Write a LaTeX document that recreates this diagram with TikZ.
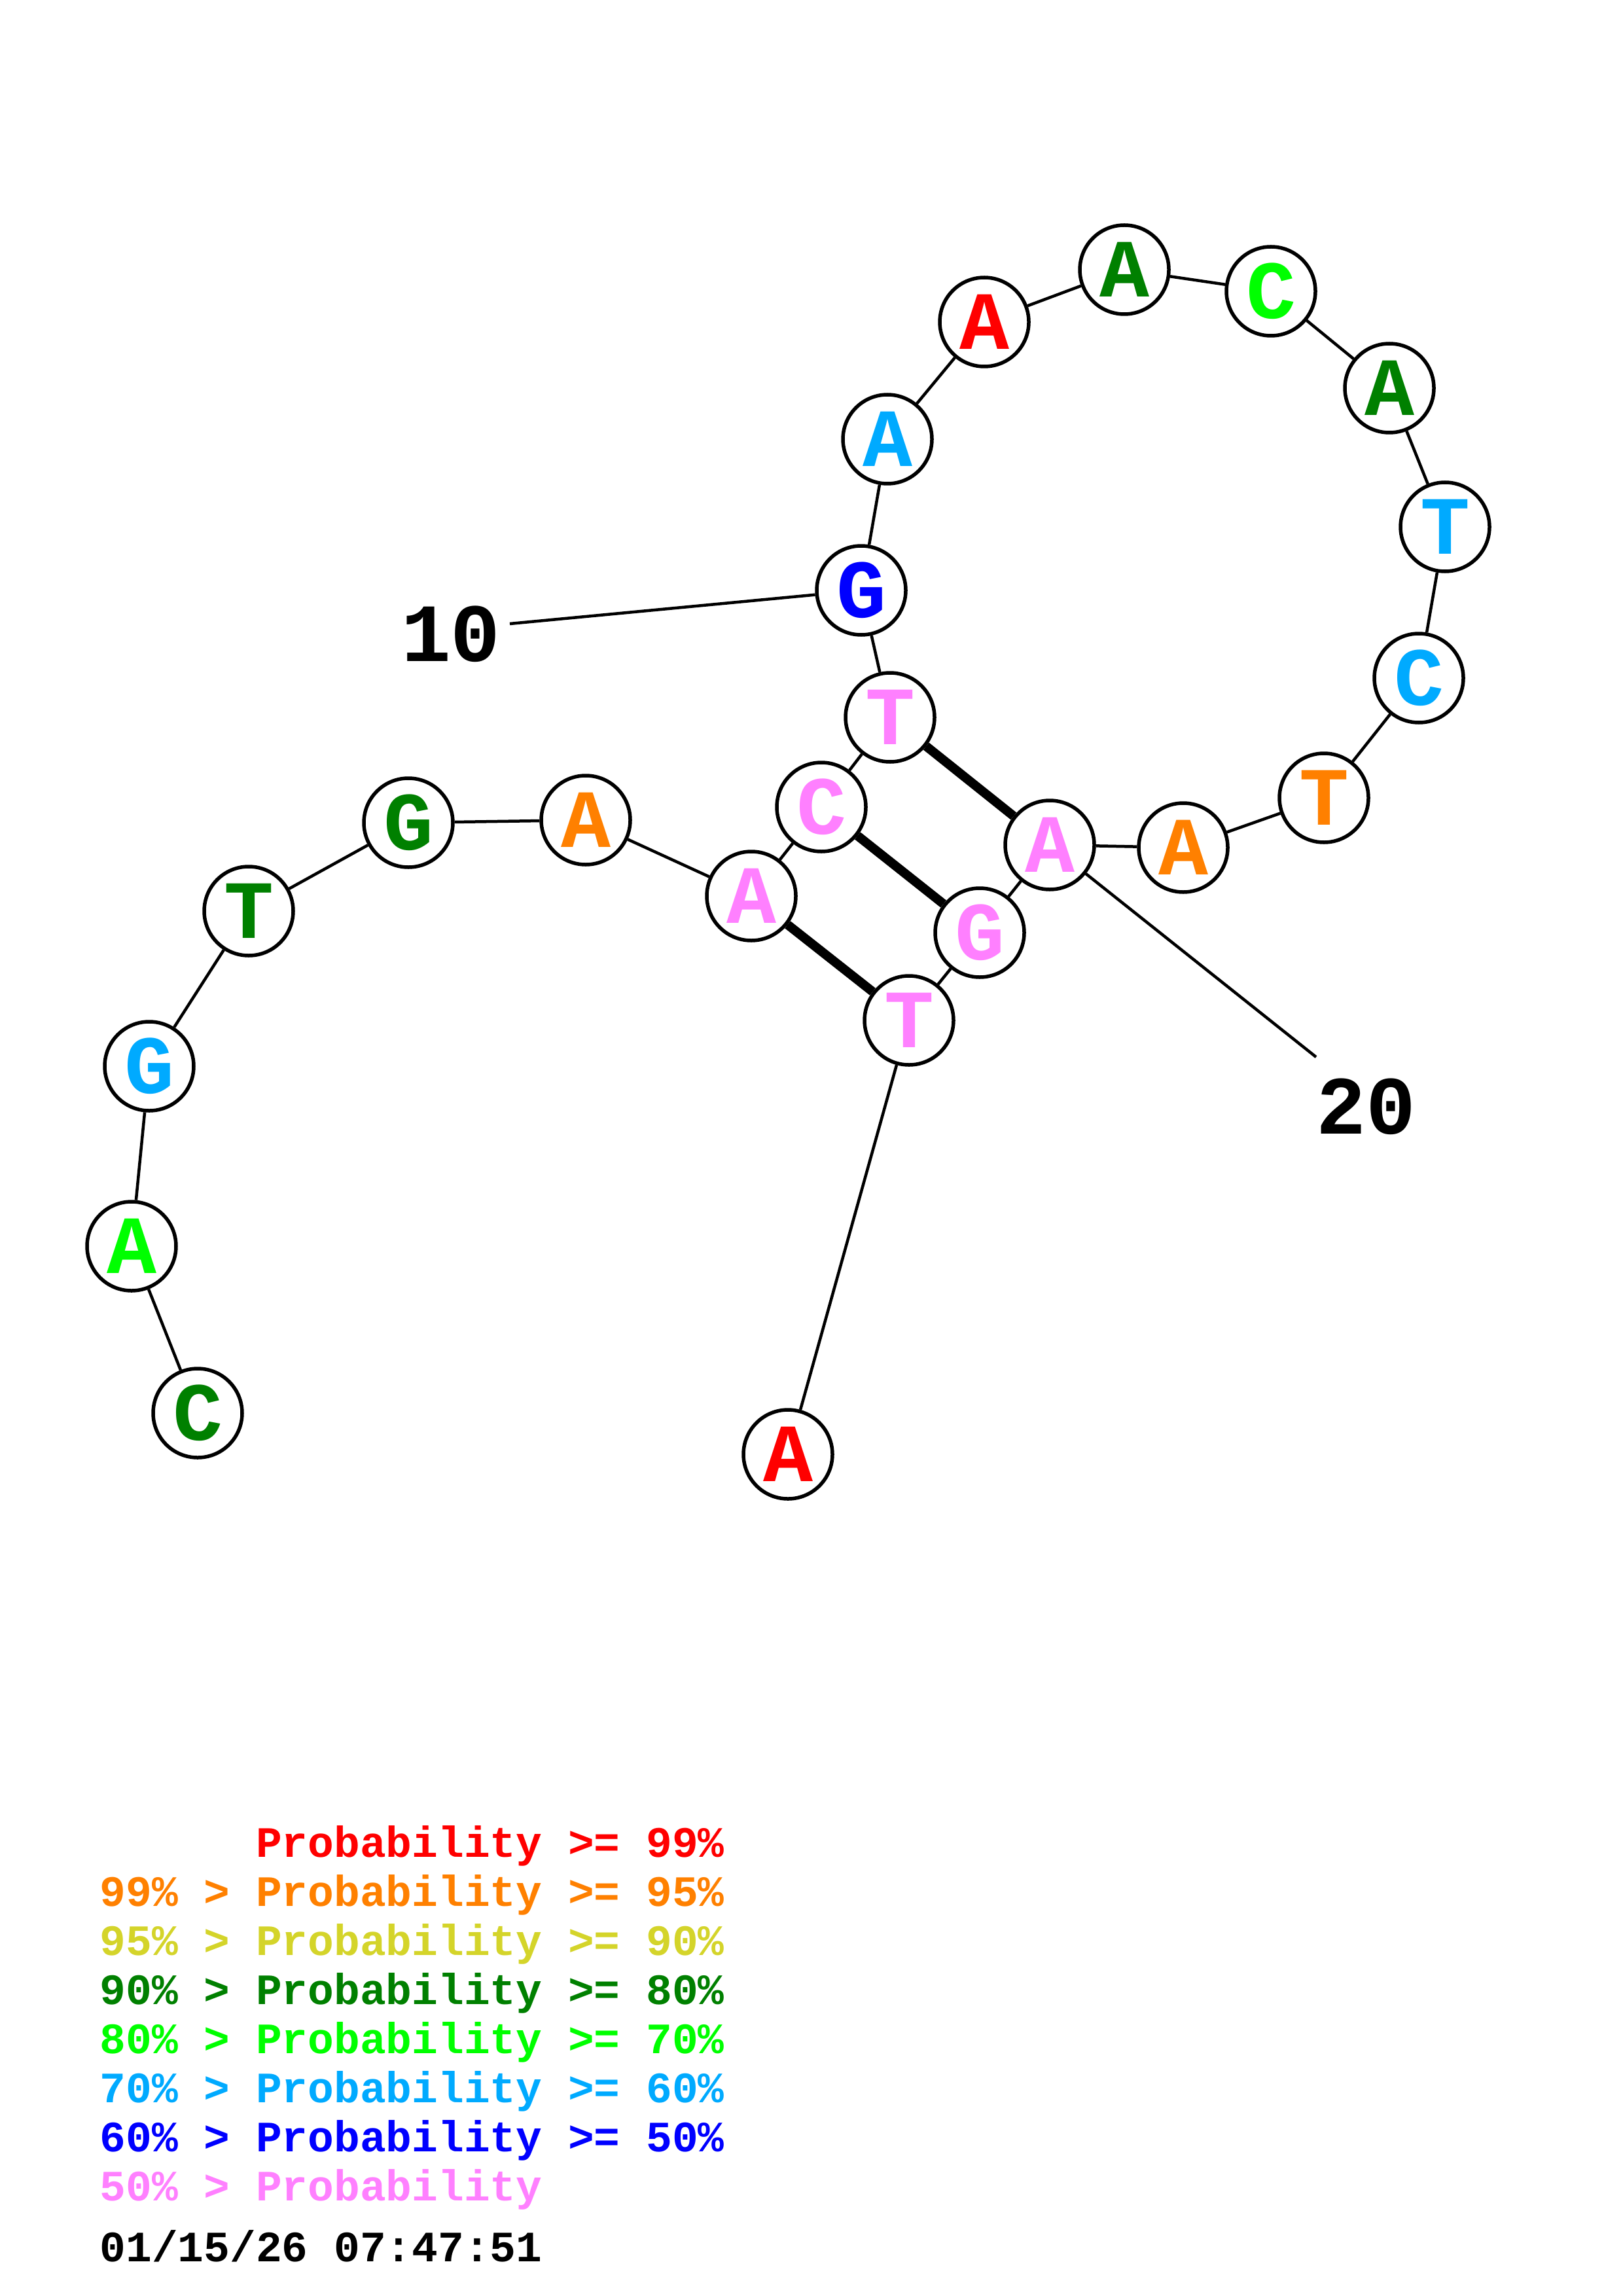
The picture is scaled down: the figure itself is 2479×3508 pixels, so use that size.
\documentclass[tikz,border=0pt]{standalone}
\usepackage{fontspec}
\setmonofont{Liberation Mono}
\usepackage{tikz}
\usetikzlibrary{positioning}
\definecolor{pr99}{RGB}{255,0,0}
\definecolor{pr95}{RGB}{255,128,0}
\definecolor{pr90}{RGB}{212,212,42}
\definecolor{pr80}{RGB}{0,128,0}
\definecolor{pr70}{RGB}{0,255,0}
\definecolor{pr60}{RGB}{0,170,255}
\definecolor{pr50}{RGB}{0,0,255}
\definecolor{prlow}{RGB}{255,128,255}
\tikzset{
  base/.style={circle,draw=black,fill=white,line width=0.55mm,minimum size=13.6mm,inner sep=0pt,
    font=\ttfamily\bfseries\fontsize{36}{36}\selectfont},
  backbone/.style={line width=0.45mm},
  pairing/.style={line width=1.4mm},
  legend/.style={anchor=base west,inner sep=0pt,font=\ttfamily\bfseries\fontsize{18.85}{19}\selectfont}
}
\begin{document}
\begin{tikzpicture}[x=0.1mm,y=-0.1mm]
    \useasboundingbox (0,0) rectangle (2479,3508);

          \node[base,text=pr80]  (b1)  at (302,2159) {C};
          \node[base,text=pr70]  (b2)  at (201,1904) {A};
          \node[base,text=pr60]  (b3)  at (228,1629) {G};
          \node[base,text=pr80]  (b4)  at (380,1392) {T};
          \node[base,text=pr80]  (b5)  at (624,1257) {G};
          \node[base,text=pr95]  (b6)  at (895,1253) {A};
          \node[base,text=prlow] (b7)  at (1148,1369) {A};
          \node[base,text=prlow] (b8)  at (1255,1233) {C};
          \node[base,text=prlow] (b9)  at (1360,1096) {T};
          \node[base,text=pr50]  (b10) at (1316,902) {G};
          \node[base,text=pr60]  (b11) at (1356,671) {A};
          \node[base,text=pr99]  (b12) at (1504,492) {A};
          \node[base,text=pr80]  (b13) at (1718,412) {A};
          \node[base,text=pr70]  (b14) at (1942,445) {C};
          \node[base,text=pr80]  (b15) at (2123,593) {A};
          \node[base,text=pr60]  (b16) at (2208,805) {T};
          \node[base,text=pr60]  (b17) at (2168,1036) {C};
          \node[base,text=pr95]  (b18) at (2023,1219) {T};
          \node[base,text=pr95]  (b19) at (1808,1295) {A};
          \node[base,text=prlow] (b20) at (1604,1291) {A};
          \node[base,text=prlow] (b21) at (1497,1425) {G};
          \node[base,text=prlow] (b22) at (1389,1559) {T};
          \node[base,text=pr99]  (b23) at (1204,2222) {A};

          % position labels
          \coordinate (tick10) at (779,953);
          \coordinate (tick20) at (2011,1615);
          \node[font=\ttfamily\bfseries\fontsize{36}{36}\selectfont,inner sep=0pt] (lab10) at (689,969) {10};
          \node[font=\ttfamily\bfseries\fontsize{36}{36}\selectfont,inner sep=0pt] (lab20) at (2087,1691) {20};

          \path[backbone] (b1) edge (b2)   (b2) edge (b3)   (b3) edge (b4)
                    (b4) edge (b5)   (b5) edge (b6)   (b6) edge (b7)
                    (b7) edge (b8)   (b8) edge (b9)   (b9) edge (b10)
                    (b10) edge (b11) (b11) edge (b12) (b12) edge (b13)
                    (b13) edge (b14) (b14) edge (b15) (b15) edge (b16)
                    (b16) edge (b17) (b17) edge (b18) (b18) edge (b19)
                    (b19) edge (b20) (b20) edge (b21) (b21) edge (b22)
                    (b22) edge (b23)
                    (b10) edge (tick10) (b20) edge (tick20);
          \path[pairing] (b9) edge (b20)
                    (b8) edge (b21)
                    (b7) edge (b22);

          % legend
          \node[legend,text=pr99]  (l99)  at (152,2837) {\phantom{99\% > }Probability >= 99\%};
          \node[legend,text=pr95]  (l95)  at (152,2912) {99\% > Probability >= 95\%};
          \node[legend,text=pr90]  (l90)  at (152,2987) {95\% > Probability >= 90\%};
          \node[legend,text=pr80]  (l80)  at (152,3062) {90\% > Probability >= 80\%};
          \node[legend,text=pr70]  (l70)  at (152,3137) {80\% > Probability >= 70\%};
          \node[legend,text=pr60]  (l60)  at (152,3212) {70\% > Probability >= 60\%};
          \node[legend,text=pr50]  (l50)  at (152,3287) {60\% > Probability >= 50\%};
          \node[legend,text=prlow] (llow) at (152,3362) {50\% > Probability};
          \node[legend,text=black] (date) at (152,3455) {01/15/26 07:47:51};
        \end{tikzpicture}
\end{document}
